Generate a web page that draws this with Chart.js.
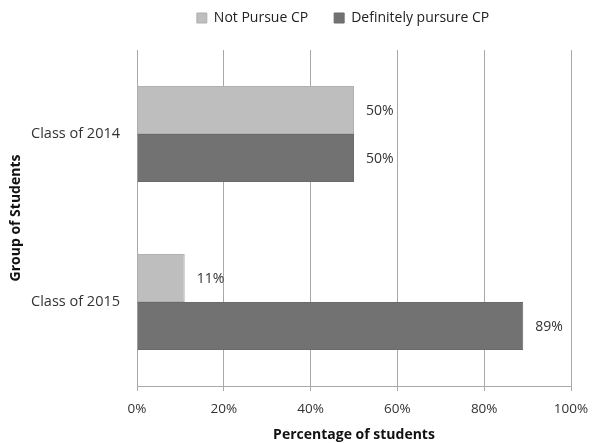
<!DOCTYPE html>
<html>
<head>
  <title>CP pursuit by class</title>
  <script src="https://cdn.jsdelivr.net/npm/chart.js@4/dist/chart.umd.min.js"></script>
  <style>
    body { margin: 0; background: #fff; }
    #wrap { width: 592px; height: 443px; }
  </style>
</head>
<body>
  <div id="wrap"><canvas id="barChart"></canvas></div>
  <script>
    var categories = ['Class of 2014', 'Class of 2015'];
    var notPursue = [50, 11];
    var definitelyPursue = [50, 89];
    var seriesNames = ['Not Pursue CP', 'Definitely pursure CP'];

    var font = "'Open Sans', 'Liberation Sans', sans-serif";
    var ctx = document.getElementById('barChart').getContext('2d');

    // percent labels just past the end of each bar
    var barLabels = {
      id: 'barLabels',
      afterDatasetsDraw(chart) {
        var c = chart.ctx;
        c.save();
        c.font = '14px ' + font;
        c.fillStyle = '#333';
        c.textAlign = 'left';
        c.textBaseline = 'middle';
        chart.data.datasets.forEach((ds, i) => {
          chart.getDatasetMeta(i).data.forEach((bar, j) => {
            c.fillText(ds.data[j] + '%', bar.x + 12, bar.y + 1);
          });
        });
        c.restore();
      }
    };

    // more room under the legend, and nudge it a bit left
    var legendGap = {
      id: 'legendGap',
      beforeInit(chart) {
        var fit = chart.legend.fit;
        chart.legend.fit = function () {
          fit.bind(chart.legend)();
          this.height += 15;
        };
      },
      afterLayout(chart) {
        chart.legend.left -= 11;
        chart.legend.right -= 11;
      }
    };

    new Chart(ctx, {
      type: 'bar',
      data: {
        labels: categories,
        datasets: [{
          label: seriesNames[0],
          data: notPursue,
          backgroundColor: '#bebebe',
          borderColor: '#b0b0b0',
          borderWidth: 1,
          categoryPercentage: 0.57,
          barPercentage: 1
        }, {
          label: seriesNames[1],
          data: definitelyPursue,
          backgroundColor: '#727272',
          borderColor: '#6a6a6a',
          borderWidth: 1,
          categoryPercentage: 0.57,
          barPercentage: 1
        }]
      },
      options: {
        indexAxis: 'y',
        responsive: true,
        maintainAspectRatio: false,
        animation: false,
        layout: { padding: { top: -15, right: 21, left: 0, bottom: 0 } },
        plugins: {
          legend: {
            position: 'top',
            fullSize: false,
            labels: {
              boxWidth: 10,
              boxHeight: 10,
              padding: 26,
              color: '#222',
              font: { family: font, size: 14 }
            }
          },
          tooltip: { enabled: false }
        },
        scales: {
          x: {
            min: 0,
            max: 100,
            ticks: {
              stepSize: 20,
              color: '#333',
              padding: 10,
              font: { family: font, size: 13.5 },
              callback: (v) => v + '%'
            },
            grid: { color: '#a9a9a9', lineWidth: 1, tickLength: 5 },
            border: { color: '#a9a9a9' },
            title: {
              display: true,
              text: 'Percentage of students',
              color: '#111',
              font: { family: font, size: 14, weight: 'bold' },
              padding: { top: 4, bottom: 0 }
            },
            afterFit: (scale) => {
              scale.height = 57;
              scale.paddingLeft = 0;
              scale.paddingRight = 0;
            }
          },
          y: {
            ticks: {
              color: '#333',
              padding: 9,
              font: { family: font, size: 14.5 }
            },
            grid: { display: false },
            border: { color: '#a9a9a9' },
            title: {
              display: true,
              text: 'Group of Students',
              color: '#111',
              font: { family: font, size: 14, weight: 'bold' },
              padding: { top: 8, bottom: 0 }
            },
            afterFit: (scale) => { scale.width = 137; }
          }
        }
      },
      plugins: [barLabels, legendGap]
    });
  </script>
</body>
</html>
